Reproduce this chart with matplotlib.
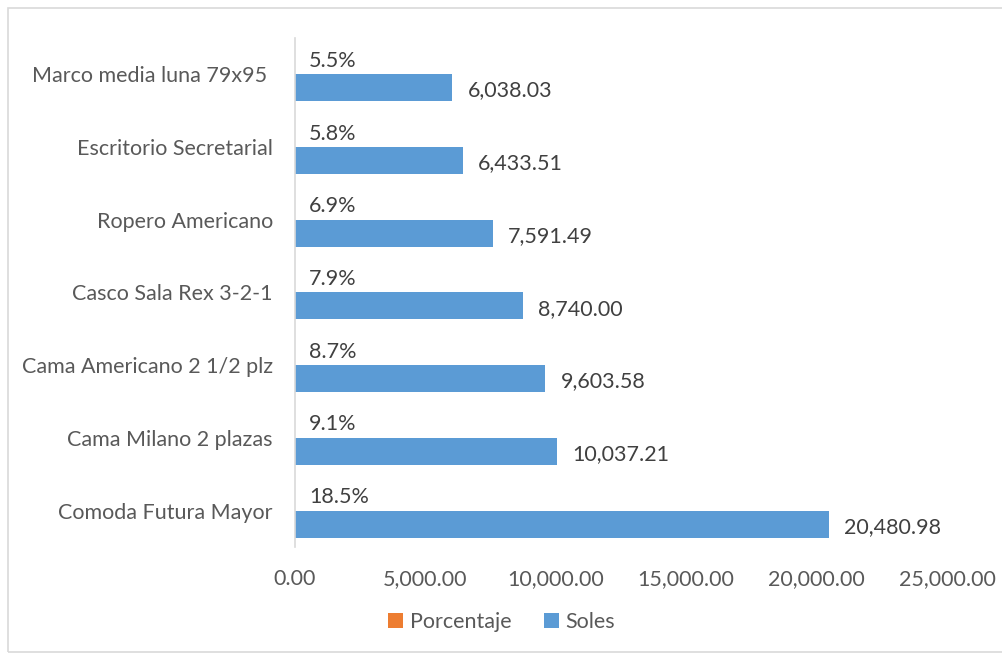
import matplotlib
matplotlib.use("Agg")
import matplotlib.pyplot as plt
import numpy as np
from matplotlib.patches import Rectangle

categories = ["Comoda Futura Mayor", "Cama Milano 2 plazas", "Cama Americano 2 1/2 plz",
              "Casco Sala Rex 3-2-1", "Ropero Americano", "Escritorio Secretarial",
              "Marco media luna 79x95 "]
soles = [20480.98, 10037.21, 9603.58, 8740.00, 7591.49, 6433.51, 6038.03]
porcentaje = [0.185, 0.091, 0.087, 0.079, 0.069, 0.058, 0.055]
xticks = [0, 5000, 10000, 15000, 20000, 25000]

plt.rcParams['font.family'] = ['Lato', 'DejaVu Sans']
text_color = '#595959'
blue = '#5B9BD5'
orange = '#ED7D31'
fs = 15.5

fig = plt.figure(figsize=(10.03, 6.54), dpi=100)
ax = fig.add_axes([295 / 1003, 1 - 547 / 654, (947 - 295) / 1003, (547 - 38) / 654])

# outer chart border
fig.add_artist(Rectangle((8 / 1003, 2 / 654), 1.2, 644 / 654, transform=fig.transFigure,
                         fill=False, edgecolor='#D9D9D9', linewidth=1.2))

y = np.arange(len(categories))
h = 0.37
ax.barh(y + h / 2, porcentaje, height=h, color=orange, label='Porcentaje')
ax.barh(y - h / 2, soles, height=h, color=blue, label='Soles')

for yi, p in zip(y, porcentaje):
    ax.annotate(f"{p * 100:.1f}%", (0, yi + h / 2), xytext=(10, 0), textcoords='offset points',
                ha='left', va='center', fontsize=fs, color='#404040')
for yi, s in zip(y, soles):
    ax.annotate(f"{s:,.2f}", (s, yi - h / 2), xytext=(11, -2), textcoords='offset points',
                ha='left', va='center', fontsize=fs, color='#404040')

ax.set_xlim(0, 25000)
ax.set_ylim(-0.5, len(categories) - 0.5)
ax.set_xticks(xticks)
ax.set_xticklabels([f"{t:,.2f}" for t in xticks], fontsize=fs, color=text_color)
ax.set_yticks(y)
ax.set_yticklabels(categories, fontsize=fs, color=text_color)
ax.tick_params(axis='both', length=0)
ax.tick_params(axis='y', pad=16)
ax.tick_params(axis='x', pad=16)
for side in ['top', 'right', 'bottom']:
    ax.spines[side].set_visible(False)
ax.spines['left'].set_color('#D9D9D9')
ax.spines['left'].set_linewidth(1.2)

handles, labels = ax.get_legend_handles_labels()
fig.legend(handles, labels, loc='center', bbox_to_anchor=(0.5, 1 - 622 / 654), ncol=2,
           frameon=False, fontsize=fs, labelcolor=text_color, handlelength=0.7,
           handleheight=0.7, handletextpad=0.3, columnspacing=1.5)

fig.savefig("out.png", dpi=100)
